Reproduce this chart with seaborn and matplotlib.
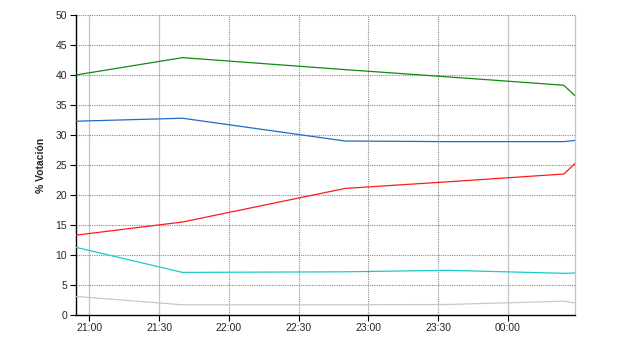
import matplotlib
matplotlib.use("Agg")
import matplotlib.pyplot as plt
import seaborn as sns
import pandas as pd

# minutes relative to 21:00
times = [-6, 40, 110, 154, 204, 209]
serie_verde = [40.0, 42.9, 40.9, 39.7, 38.3, 36.5]
serie_azul = [32.3, 32.8, 29.0, 28.9, 28.9, 29.1]
serie_roja = [13.3, 15.5, 21.1, 22.2, 23.5, 25.3]
serie_cian = [11.3, 7.1, 7.2, 7.45, 6.95, 7.0]
serie_gris = [3.1, 1.7, 1.7, 1.75, 2.3, 2.0]

tick_pos = [0, 30, 60, 90, 120, 150, 180]
tick_labels = ["21:00", "21:30", "22:00", "22:30", "23:00", "23:30", "00:00"]
solid_vgrid = [0, 30, 180]

series = {"A": serie_verde, "B": serie_azul, "C": serie_roja, "D": serie_cian, "E": serie_gris}
palette = {"A": "#0f8a0f", "B": "#1f6cc4", "C": "#ff1a1a", "D": "#1ccaca", "E": "#c8c8c8"}

rows = []
for name, vals in series.items():
    for t, v in zip(times, vals):
        rows.append({"t": t, "v": v, "serie": name})
df = pd.DataFrame(rows)

sns.set_style("white")
plt.rcParams["font.family"] = ["Liberation Sans", "DejaVu Sans"]

fig = plt.figure(figsize=(6.4, 3.5), dpi=100)
ax = fig.add_axes([0.118, 0.1, 0.781, 0.857])

for x in tick_pos:
    if x in solid_vgrid:
        ax.axvline(x, color="#c4c4c4", lw=0.9, zorder=0)
    else:
        ax.axvline(x, color="#8a8a8a", lw=0.8, ls=(0, (1, 1)), zorder=0)
for y in range(5, 51, 5):
    ax.axhline(y, color="#8a8a8a", lw=0.8, ls=(0, (1, 1)), zorder=0)

sns.lineplot(data=df, x="t", y="v", hue="serie", palette=palette, lw=0.9,
             legend=False, ax=ax, zorder=3)

ax.set_xlim(times[0], times[-1])
ax.set_ylim(0, 50)
ax.set_yticks(range(0, 51, 5))
ax.set_xticks(tick_pos)
ax.set_xticklabels(tick_labels)
ax.set_xlabel("")
ax.set_ylabel("% Votación", fontsize=7.5, fontweight="bold", labelpad=7)
ax.tick_params(axis="both", labelsize=7.5, length=4, width=0.8, color="black", pad=2,
               left=True, bottom=True, direction="out")

for s in ["left", "bottom"]:
    ax.spines[s].set_color("black")
    ax.spines[s].set_linewidth(1.0)
ax.spines["top"].set_visible(False)
ax.spines["right"].set_color("#c4c4c4")
ax.spines["right"].set_linewidth(0.9)

fig.savefig("out.png", dpi=100)
